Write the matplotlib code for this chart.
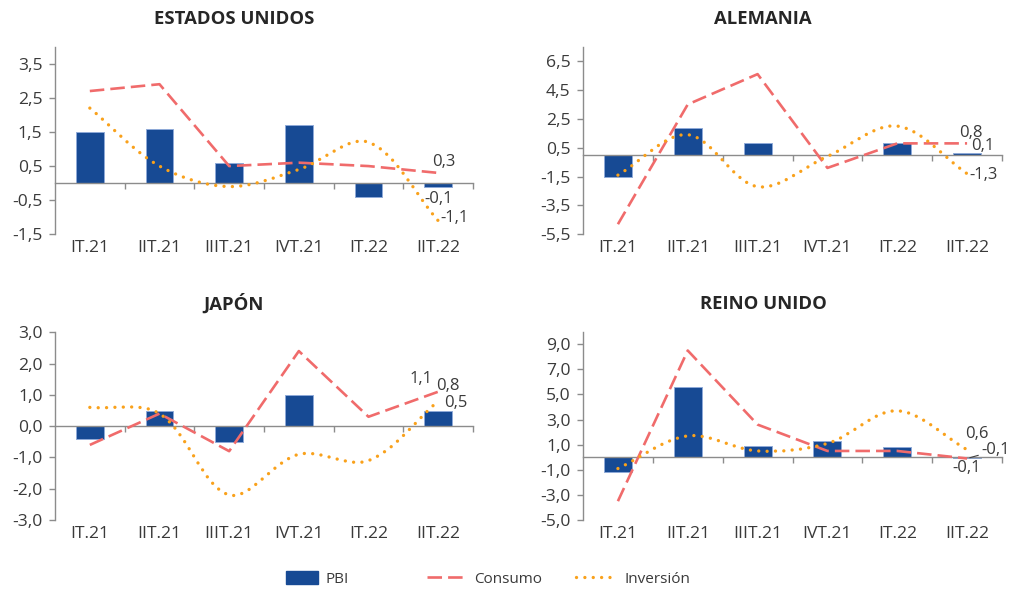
import numpy as np
import matplotlib
matplotlib.use("Agg")
import matplotlib.pyplot as plt
from matplotlib.path import Path
from matplotlib.patches import PathPatch, Patch
from matplotlib.lines import Line2D

plt.rcParams['font.family'] = ['Open Sans', 'DejaVu Sans']

categories = ["IT.21", "IIT.21", "IIIT.21", "IVT.21", "IT.22", "IIT.22"]

us_pbi = [1.5, 1.6, 0.6, 1.7, -0.4, -0.1]
us_consumo = [2.7, 2.9, 0.5, 0.6, 0.5, 0.3]
us_inversion = [2.2, 0.5, -0.1, 0.4, 1.2, -1.1]
us_yticks = [-1.5, -0.5, 0.5, 1.5, 2.5, 3.5]

de_pbi = [-1.5, 1.9, 0.8, 0.0, 0.8, 0.1]
de_consumo = [-4.8, 3.5, 5.6, -0.9, 0.8, 0.8]
de_inversion = [-1.4, 1.4, -2.2, -0.1, 2.0, -1.3]
de_yticks = [-5.5, -3.5, -1.5, 0.5, 2.5, 4.5, 6.5]

jp_pbi = [-0.4, 0.5, -0.5, 1.0, 0.0, 0.5]
jp_consumo = [-0.6, 0.4, -0.8, 2.4, 0.3, 1.1]
jp_inversion = [0.6, 0.4, -2.2, -0.9, -1.1, 0.8]
jp_yticks = [-3.0, -2.0, -1.0, 0.0, 1.0, 2.0, 3.0]

uk_pbi = [-1.2, 5.6, 0.9, 1.3, 0.8, -0.1]
uk_consumo = [-3.5, 8.5, 2.6, 0.5, 0.5, -0.1]
uk_inversion = [-0.9, 1.7, 0.5, 1.1, 3.7, 0.6]
uk_yticks = [-5.0, -3.0, -1.0, 1.0, 3.0, 5.0, 7.0, 9.0]

C_BAR = "#174A94"
C_BAR_EDGE = "#8FAAD8"
C_CONS = "#F06B6B"
C_INV = "#F9A11B"
C_TEXT = "#3A3A3A"
C_AXIS = "#8C8C8C"

W, H = 1009, 590
fig = plt.figure(figsize=(W / 100, H / 100), dpi=100)

CONS_LW = 1.9
INV_LW = 2.4
CONS_LS = (0, (5.5, 2.3))
INV_LS = (0, (0.01, 2.5))

TICK_FS = 12.6
LABEL_FS = 12
TITLE_FS = 13.3


def fmt(v):
    return f"{v:.1f}".replace(".", ",")


def smooth_path(ax, xs, ys):
    # Bezier smoothing (Excel-like), control points weighted by screen-space segment length
    P = np.column_stack([xs, ys]).astype(float)
    S = ax.transData.transform(P)
    n = len(P)
    d = np.hypot(*(np.diff(S, axis=0).T))
    verts = [P[0]]
    codes = [Path.MOVETO]

    def tangent(i):
        a = P[i - 1] if i > 0 else P[i]
        b = P[i + 1] if i < n - 1 else P[i]
        return b - a, (d[i - 1] if i > 0 else 0) + (d[i] if i < n - 1 else 0)

    for i in range(n - 1):
        t1, s1 = tangent(i)
        t2, s2 = tangent(i + 1)
        f1 = d[i] / s1 if s1 > 0 else 0
        f2 = d[i] / s2 if s2 > 0 else 0
        if i == 0:
            f1 = 1.0
        if i == n - 2:
            f2 = 1.0
        c1 = P[i] + t1 * f1 / 3.0
        c2 = P[i + 1] - t2 * f2 / 3.0
        verts += [c1, c2, P[i + 1]]
        codes += [Path.CURVE4] * 3
    return Path(verts, codes)


def panel(rect_px, title, title_xy, pbi, cons, inv, yticks, ylim, labels):
    l, t, r, b = rect_px
    ax = fig.add_axes([l / W, 1 - b / H, (r - l) / W, (b - t) / H])
    x = np.arange(len(categories))
    ax.set_xlim(-0.5, len(categories) - 0.5)
    ax.set_ylim(*ylim)
    ax.bar(x, pbi, width=0.4, color=C_BAR, edgecolor=C_BAR_EDGE, linewidth=0.7, zorder=2)
    ax.plot(x, cons, color=C_CONS, lw=CONS_LW, linestyle=CONS_LS, zorder=3)
    pp = PathPatch(smooth_path(ax, x, inv), fill=False, edgecolor=C_INV, lw=INV_LW,
                   linestyle=INV_LS, capstyle='round', zorder=4)
    ax.add_patch(pp)
    for s in ['top', 'right']:
        ax.spines[s].set_visible(False)
    ax.spines['left'].set_color(C_AXIS)
    ax.spines['left'].set_linewidth(1.0)
    ax.spines['bottom'].set_position(('data', 0))
    ax.spines['bottom'].set_color(C_AXIS)
    ax.spines['bottom'].set_linewidth(1.0)
    ax.set_yticks(yticks, [fmt(v) for v in yticks])
    ax.tick_params(axis='y', direction='out', length=4, width=1.0, color=C_AXIS,
                   labelsize=TICK_FS, labelcolor=C_TEXT, pad=5)
    ax.set_xticks(np.arange(len(categories) + 1)[1:] - 0.5, [])
    ax.tick_params(axis='x', direction='out', length=4, width=1.0, color=C_AXIS)
    sec = ax.secondary_xaxis('bottom')
    sec.set_xticks(x, categories)
    sec.tick_params(length=0, labelsize=TICK_FS, labelcolor=C_TEXT, pad=4)
    sec.spines['bottom'].set_visible(False)
    fig.text(title_xy[0] / W, 1 - title_xy[1] / H, title, ha='center', va='center',
             fontsize=TITLE_FS, fontweight='bold', color="#262626")
    for (xi, val, dx, dy, ha, leader) in labels:
        kw = {}
        if leader:
            kw['arrowprops'] = dict(arrowstyle='-', color="#404040", lw=0.8,
                                    shrinkA=0, shrinkB=2)
        ax.annotate(fmt(val), xy=(xi, val), xytext=(dx, dy), textcoords='offset pixels',
                    ha=ha, va='center', fontsize=LABEL_FS, color=C_TEXT, zorder=6, **kw)
    return ax


ax1 = panel((55, 46.7, 473, 234.3), "ESTADOS UNIDOS", (234, 18.5),
            us_pbi, us_consumo, us_inversion, us_yticks, (-1.5, 4.0),
            [(5, us_consumo[5], 6, 11, 'center', False),
             (5, us_pbi[5], 0, -12, 'center', False),
             (5, us_inversion[5], 2, 3, 'left', False)])
ax2 = panel((583, 46.7, 1002, 234.3), "ALEMANIA", (763, 18.5),
            de_pbi, de_consumo, de_inversion, de_yticks, (-5.5, 7.5),
            [(5, de_consumo[5], 4, 10, 'center', False),
             (5, de_pbi[5], 16, 7, 'center', False),
             (5, de_inversion[5], 2, -1, 'left', False)])
ax3 = panel((55, 332.3, 473, 520), "JAPÓN", (233, 303.5),
            jp_pbi, jp_consumo, jp_inversion, jp_yticks, (-3.0, 3.0),
            [(5, jp_consumo[5], -17, 13, 'center', False),
             (5, jp_inversion[5], 10, 15, 'center', False),
             (5, jp_pbi[5], 18, 8, 'center', False)])
ax4 = panel((583, 331.7, 1002, 520), "REINO UNIDO", (763, 303.5),
            uk_pbi, uk_consumo, uk_inversion, uk_yticks, (-5.0, 10.0),
            [(5, uk_inversion[5], 10, 16, 'center', False),
             (5, uk_consumo[5], 14, 8, 'left', True),
             (5, uk_pbi[5], 0, -10, 'center', False)])

# Legend
ly = 1 - 579 / H
h_pbi = Patch(facecolor=C_BAR, edgecolor=C_BAR)
h_cons = Line2D([], [], color=C_CONS, lw=CONS_LW, linestyle=CONS_LS)
h_inv = Line2D([], [], color=C_INV, lw=INV_LW, linestyle=INV_LS, dash_capstyle='round')
for h, lab, xp, hl in [(h_pbi, "PBI", 286, 2.1), (h_cons, "Consumo", 427, 2.6),
                        (h_inv, "Inversión", 576, 2.7)]:
    fig.legend([h], [lab], loc='center left', bbox_to_anchor=(xp / W, ly),
               frameon=False, fontsize=11, handlelength=hl, handleheight=0.9,
               handletextpad=0.5, borderpad=0, borderaxespad=0,
               labelcolor=C_TEXT)

fig.savefig("out.png", dpi=100)
